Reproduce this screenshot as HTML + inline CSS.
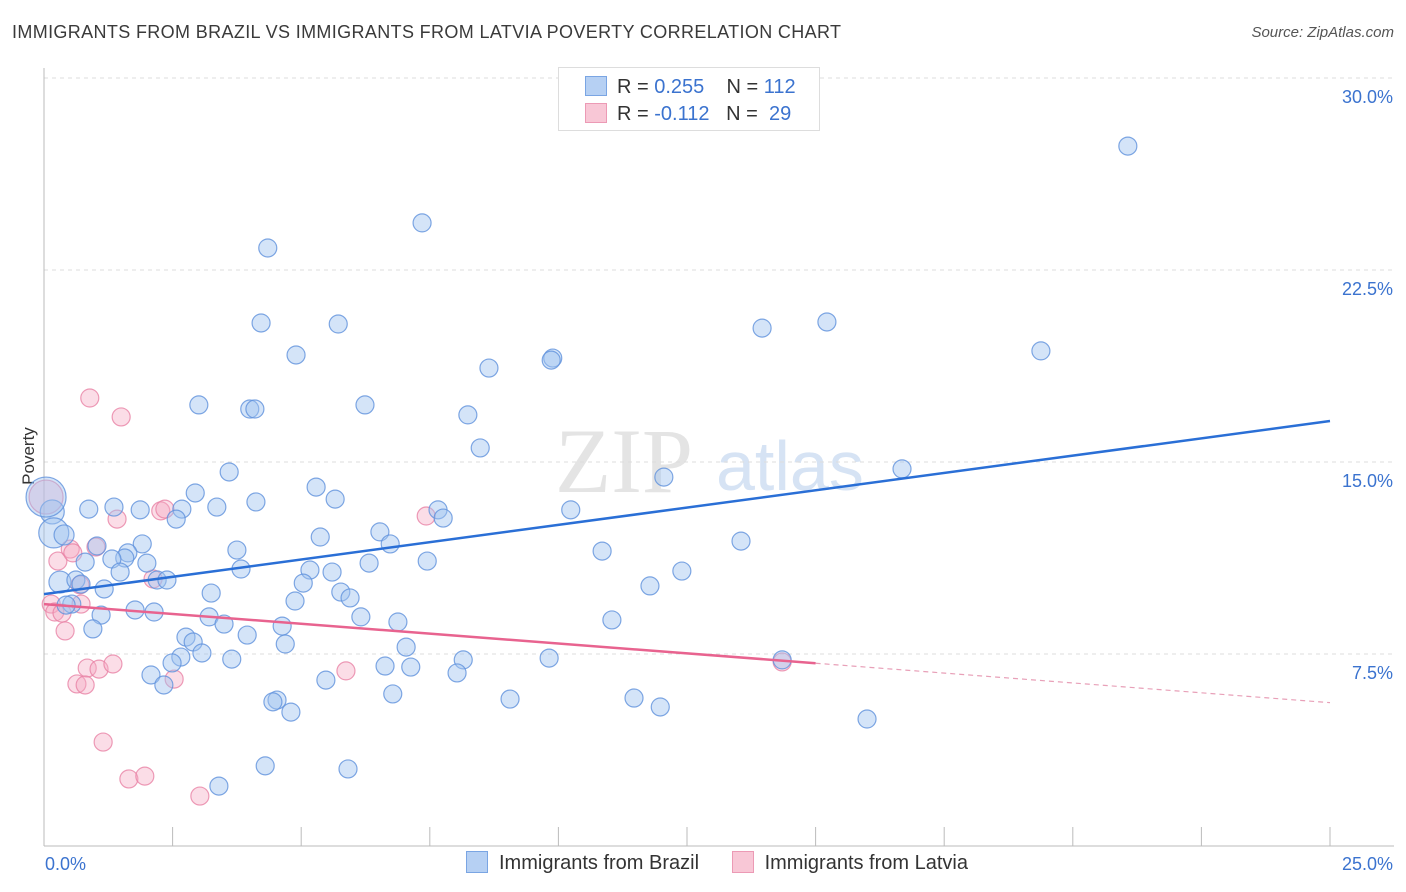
<!DOCTYPE html>
<html><head><meta charset="utf-8"><style>
body{margin:0;background:#fff;font-family:"Liberation Sans",sans-serif;}
#wrap{position:relative;width:1406px;height:892px;}
.t{position:absolute;}
</style></head><body>
<div id="wrap">
<div class="t" style="left:12px;top:22px;font-size:18px;letter-spacing:0.36px;color:#3a3a3a;">IMMIGRANTS FROM BRAZIL VS IMMIGRANTS FROM LATVIA POVERTY CORRELATION CHART</div>
<div class="t" style="right:12px;top:24px;font-size:15px;font-style:italic;color:#555;">Source: ZipAtlas.com</div>
<svg id="svg" width="1406" height="892" style="position:absolute;left:0;top:0"></svg>
</div>
<script>
const xTicks=[0,2.5,5,7.5,10,12.5,15,17.5,20,22.5,25];
const yTicks=[7.5,15,22.5,30];
const yTickLabels=["7.5%","15.0%","22.5%","30.0%"];
const brazilX=[21.07,7.35,4.35,4.22,5.72,13.96,15.22,4.90,9.89,9.86,19.38,8.65,3.01,4.00,4.10,6.24,8.24,8.48,3.60,12.05,16.68,2.94,5.29,5.66,4.12,3.36,0.87,1.36,1.87,2.68,2.57,7.66,7.76,10.24,0.16,0.19,0.39,5.37,6.53,6.73,13.55,3.75,1.03,1.91,1.63,1.57,1.32,2.00,10.85,0.80,6.32,7.45,3.83,5.17,5.60,1.48,0.31,0.62,0.72,2.20,2.39,5.04,12.40,11.78,1.17,3.25,5.77,5.95,4.88,0.54,0.43,1.77,2.14,1.11,3.21,6.16,11.04,6.88,3.50,0.95,4.63,3.95,2.76,2.90,4.69,7.04,3.07,2.66,3.65,8.15,9.82,14.35,2.49,6.63,7.13,8.03,2.08,5.48,2.33,6.78,4.53,4.45,9.06,11.47,11.98,4.80,16.00,4.30,5.91,3.40,0.04];
const brazilY=[27.34,24.34,23.36,20.43,20.39,20.23,20.47,19.18,19.06,18.98,19.34,18.67,17.23,17.07,17.07,17.23,16.84,15.55,14.61,14.41,14.73,13.79,14.02,13.55,13.44,13.24,13.16,13.24,13.13,13.16,12.77,13.13,12.81,13.13,13.05,12.23,12.15,12.07,12.27,11.80,11.91,11.56,11.72,11.80,11.45,11.25,11.21,11.05,11.52,11.09,11.05,11.13,10.82,10.78,10.70,10.70,10.31,10.39,10.23,10.39,10.39,10.27,10.74,10.16,10.04,9.88,9.92,9.69,9.57,9.45,9.41,9.22,9.14,9.02,8.95,8.95,8.83,8.75,8.67,8.48,8.59,8.24,8.16,7.97,7.89,7.77,7.54,7.38,7.30,7.27,7.34,7.27,7.15,7.03,6.99,6.76,6.68,6.48,6.29,5.94,5.70,5.63,5.74,5.78,5.43,5.23,4.96,3.13,3.01,2.34,13.63];
const brazilR=[9,9,9,9,9,9,9,9,9,9,9,9,9,9,9,9,9,9,9,9,9,9,9,9,9,9,9,9,9,9,9,9,9,9,12,15,10,9,9,9,9,9,9,9,9,9,9,9,9,9,9,9,9,9,9,9,11,9,9,9,9,9,9,9,9,9,9,9,9,9,9,9,9,9,9,9,9,9,9,9,9,9,9,9,9,9,9,9,9,9,9,9,9,9,9,9,9,9,9,9,9,9,9,9,9,9,9,9,9,9,20];
const latviaX=[0.89,1.50,1.42,2.27,2.35,7.43,0.27,0.51,1.01,0.56,2.12,0.70,0.14,0.72,0.21,0.35,0.41,0.84,1.07,1.34,0.64,0.80,2.53,5.87,14.35,1.15,1.65,1.96,3.03,0.04];
const latviaY=[17.50,16.76,12.77,13.09,13.16,12.89,11.13,11.60,11.68,11.45,10.43,10.20,9.45,9.45,9.14,9.10,8.40,6.95,6.91,7.11,6.33,6.29,6.52,6.84,7.19,4.06,2.62,2.73,1.95,13.63];
const latviaR=[9,9,9,9,9,9,9,9,9,9,9,9,9,9,9,9,9,9,9,9,9,9,9,9,9,9,9,9,9,17];
const brazilTrend=[9.84,16.6];
const latviaTrend=[9.45,5.6];
const latviaSolidEnd=15;

const X0=44,X1=1330,Y0=846,Y30=78;
const sx=v=>X0+(X1-X0)*v/25;
const sy=v=>Y0-(Y0-Y30)*v/30;
const svg=document.getElementById('svg');
const NS='http://www.w3.org/2000/svg';
function mk(tag,attrs,name,parent){const e=document.createElementNS(NS,tag);for(const k in attrs)e.setAttribute(k,attrs[k]);


(parent||svg).appendChild(e);return e;}
const wm=mk('text',{x:555,y:492,'font-size':92,'font-family':'Liberation Serif, serif',fill:'#e4e4e4'},'watermark');wm.textContent='ZIP';
const wm2=mk('text',{x:716,y:490,'font-size':70,'font-family':'Liberation Sans, sans-serif',fill:'#d6e3f4'},'watermark-atlas');wm2.textContent='atlas';
yTicks.forEach((v,i)=>{
 mk('line',{x1:X0,x2:1394,y1:sy(v),y2:sy(v),stroke:'#ddd','stroke-dasharray':'4,4'},'gridline');
 const t=mk('text',{x:1393,y:sy(v)+25,'text-anchor':'end','font-size':18,fill:'#3b73cf','font-family':'Liberation Sans, sans-serif'},'y-tick-label');t.textContent=yTickLabels[i];
});
mk('line',{x1:X0,x2:X0,y1:68,y2:Y0,stroke:'#bbb'},'y-axis');
mk('line',{x1:X0,x2:1394,y1:Y0,y2:Y0,stroke:'#bbb'},'x-axis');
xTicks.forEach(v=>{mk('line',{x1:sx(v),x2:sx(v),y1:827,y2:Y0,stroke:'#bbb'},'x-tick');});
const xl=mk('text',{x:45,y:870,'font-size':18,fill:'#3b73cf','font-family':'Liberation Sans, sans-serif'},'x-min-label');xl.textContent='0.0%';
const xr=mk('text',{x:1393,y:870,'text-anchor':'end','font-size':18,fill:'#3b73cf','font-family':'Liberation Sans, sans-serif'},'x-max-label');xr.textContent='25.0%';
const yt=mk('text',{x:34,y:456,'font-size':17,fill:'#333','font-family':'Liberation Sans, sans-serif',transform:'rotate(-90 34 456)','text-anchor':'middle'},'y-axis-title');yt.textContent='Poverty';
latviaX.forEach((x,i)=>{mk('circle',{cx:sx(x),cy:sy(latviaY[i]),r:latviaR[i],fill:'rgba(244,170,195,0.4)',stroke:'rgba(232,130,165,0.8)','stroke-width':1.2},'latvia-point');});
brazilX.forEach((x,i)=>{mk('circle',{cx:sx(x),cy:sy(brazilY[i]),r:brazilR[i],fill:'rgba(160,195,240,0.45)',stroke:'rgba(95,145,220,0.8)','stroke-width':1.2},'brazil-point');});
mk('line',{x1:sx(0),y1:sy(brazilTrend[0]),x2:sx(25),y2:sy(brazilTrend[1]),stroke:'#2a6fd6','stroke-width':2.5},'brazil-trendline');
const ly=v=>latviaTrend[0]+(latviaTrend[1]-latviaTrend[0])*v/25;
mk('line',{x1:sx(0),y1:sy(ly(0)),x2:sx(latviaSolidEnd),y2:sy(ly(latviaSolidEnd)),stroke:'#e8638f','stroke-width':2.5},'latvia-trendline');
mk('line',{x1:sx(latviaSolidEnd),y1:sy(ly(latviaSolidEnd)),x2:sx(25),y2:sy(ly(25)),stroke:'#e8a0b8','stroke-width':1.2,'stroke-dasharray':'5,4'},'latvia-trendline-extension');
</script>
<div class="t" style="left:558px;top:67px;width:260px;height:62px;border:1px solid #ddd;background:#fff;font-size:20px;">
 <div style="position:absolute;left:26px;top:8px;white-space:pre;"><span style="display:inline-block;width:20px;height:18px;background:#b6d0f3;border:1px solid #7aa5e3;vertical-align:-3px;margin-right:10px"></span><span style="color:#333">R = </span><span style="color:#3b73cf">0.255</span><span style="color:#333">    N = </span><span style="color:#3b73cf">112</span></div>
 <div style="position:absolute;left:26px;top:35px;white-space:pre;"><span style="display:inline-block;width:20px;height:18px;background:#f8c7d6;border:1px solid #ec9ab5;vertical-align:-3px;margin-right:10px"></span><span style="color:#333">R = </span><span style="color:#3b73cf">-0.112</span><span style="color:#333">   N =  </span><span style="color:#3b73cf">29</span></div>
</div>
<div class="t" style="left:466px;top:851px;font-size:20px;color:#333;white-space:nowrap;">
 <span><span style="display:inline-block;width:20px;height:20px;background:#b6d0f3;border:1px solid #7aa5e3;vertical-align:-4px;margin-right:11px"></span>Immigrants from Brazil</span>
 <span style="margin-left:27px"><span style="display:inline-block;width:20px;height:20px;background:#f8c7d6;border:1px solid #ec9ab5;vertical-align:-4px;margin-right:11px"></span>Immigrants from Latvia</span>
</div>
</body></html>
